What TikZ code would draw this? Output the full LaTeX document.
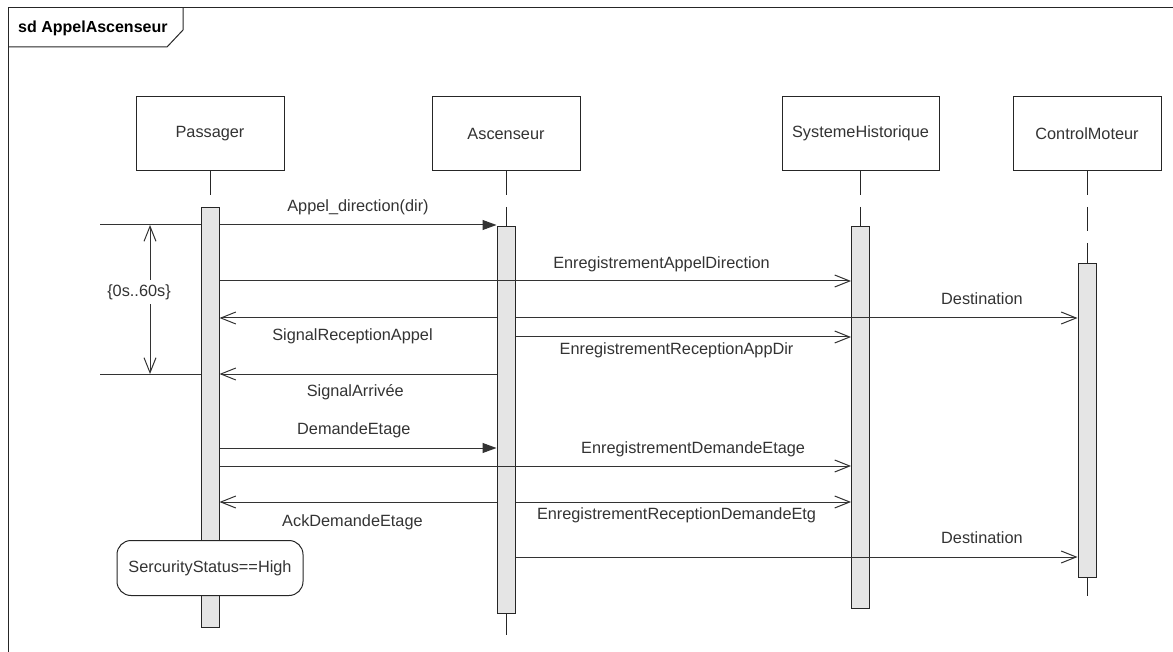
\documentclass[tikz,border=0pt]{standalone}
\usepackage{fontspec}
\setmainfont{Liberation Sans}
\usetikzlibrary{positioning, arrows.meta}

\begin{document}
\begin{tikzpicture}[
        x=1pt, y=-1pt,
        font=\fontsize{16.3}{19}\selectfont,
        head/.style={rectangle, draw=black!85, line width=1pt, fill=white,
            minimum width=148pt, minimum height=74pt, text=black!80, inner sep=2pt},
        act/.style={rectangle, draw=black!85, line width=1pt, fill=black!10,
            minimum width=18pt, inner sep=0pt},
        lifeline/.style={draw=black!85, line width=1pt, dash pattern=on 24pt off 12pt},
        line/.style={draw=black!80, line width=1pt},
        msg/.style={line, -{Straight Barb[length=15pt, width=12pt]}},
        call/.style={line, -{Triangle[length=14pt, width=10pt]}},
        dur/.style={line, {Straight Barb[length=15pt, width=12pt]}-{Straight Barb[length=15pt, width=12pt]}},
        lbl/.style={text=black!80, inner sep=2pt},
        state/.style={rectangle, draw=black!85, line width=1pt, fill=white, rounded corners=14pt,
            minimum width=186pt, minimum height=55pt, text=black!80}
    ]
    \useasboundingbox (0,0) rectangle (1173,652);

    % frame
    \draw [line, black!85] (8,652) -- (8,8) -- (1173,8);
    \node [font=\fontsize{16}{19}\selectfont\bfseries, anchor=west, inner sep=0pt] (sdlabel) at (18,28) {sd AppelAscenseur};
    \draw [line, black!85] (8,47) -- (167,47) -- (183,30) -- (183,8);

    % lifelines
    \node [head] (passager) at (210,133.5) {Passager};
    \node [head, right=147pt of passager] (ascenseur) {Ascenseur};
    \node [head, minimum width=157pt, right=201pt of ascenseur] (historique) {SystemeHistorique};
    \node [head, right=73pt of historique] (moteur) {ControlMoteur};

    \node [act, minimum height=420pt, below=36pt of passager] (actP) {};
    \node [act, minimum height=387pt, below=55pt of ascenseur] (actA) {};
    \node [act, minimum height=382pt, below=55pt of historique] (actH) {};
    \node [act, minimum height=314pt, below=92pt of moteur] (actM) {};
    \coordinate [below=21pt of actA] (endA);
    \coordinate [below=18pt of actM] (endM);

    \draw [lifeline] (passager) -- (actP);
    \draw [lifeline] (ascenseur) -- (actA);
    \draw [lifeline] (historique) -- (actH);
    \draw [lifeline] (moteur) -- (actM);
    \draw [lifeline] (actA) -- (endA);
    \draw [lifeline] (actM) -- (endM);

    % message levels
    \coordinate (yAppel) at (0,225);
    \coordinate (yEnrAppel) at (0,281);
    \coordinate (ySignal) at (0,318);
    \coordinate (yEnrRecep) at (0,337);
    \coordinate (yArrivee) at (0,374);
    \coordinate (yDemande) at (0,448);
    \coordinate (yEnrDemande) at (0,466);
    \coordinate (yAck) at (0,502);
    \coordinate (yDest) at (0,557);

    \draw [call] (actP.east |- yAppel) -- node[lbl, above=8pt] {Appel\_direction(dir)} (actA.west |- yAppel);
    \draw [msg] (actP.east |- yEnrAppel) -- node[lbl, above=7pt, pos=0.70] {EnregistrementAppelDirection} (actH.west |- yEnrAppel);
    \draw [msg] (actA.west |- ySignal) -- node[lbl, below=8pt, pos=0.52] {SignalReceptionAppel} (actP.east |- ySignal);
    \draw [msg] (actA.east |- ySignal) -- node[lbl, above=11pt, pos=0.83] {Destination} (actM.west |- ySignal);
    \draw [msg] (actA.east |- yEnrRecep) -- node[lbl, below=3pt, pos=0.48] {EnregistrementReceptionAppDir} (actH.west |- yEnrRecep);
    \draw [msg] (actA.west |- yArrivee) -- node[lbl, below=8pt, pos=0.51] {SignalArrivée} (actP.east |- yArrivee);
    \draw [call] (actP.east |- yDemande) -- node[lbl, above=8pt, pos=0.485] {DemandeEtage} (actA.west |- yDemande);
    \draw [msg] (actP.east |- yEnrDemande) -- node[lbl, above=7pt, pos=0.75] {EnregistrementDemandeEtage} (actH.west |- yEnrDemande);
    \draw [msg] (actA.west |- yAck) -- node[lbl, below=10pt, pos=0.52] {AckDemandeEtage} (actP.east |- yAck);
    \draw [msg] (actA.east |- yAck) -- node[lbl, below=3pt, pos=0.48] {EnregistrementReceptionDemandeEtg} (actH.west |- yAck);
    \draw [msg] (actA.east |- yDest) -- node[lbl, above=11pt, pos=0.83] {Destination} (actM.west |- yDest);

    % duration constraint
    \coordinate (tcTop) at (100,225);
    \coordinate (tcBot) at (100,374);
    \coordinate (durTop) at (150,225);
    \coordinate (durBot) at (150,374);
    \draw [line] (tcTop) -- (actP.west |- tcTop);
    \draw [line] (tcBot) -- (actP.west |- tcBot);
    \draw [dur] (durTop) -- node[lbl, fill=white, inner sep=4pt, pos=0.45, xshift=-11pt] {\{0s..60s\}} (durBot);

    % state invariant
    \node [state, above=32pt of actP.south] (secu) {SercurityStatus==High};
\end{tikzpicture}
\end{document}
